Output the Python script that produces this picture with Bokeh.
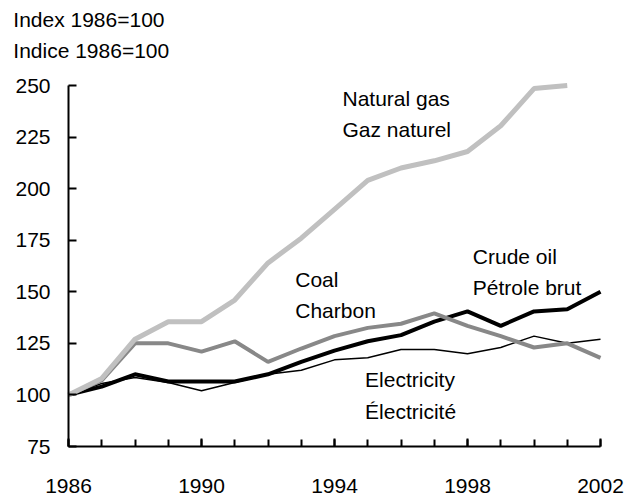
from bokeh.plotting import figure
from bokeh.models import Range1d, FixedTicker
from bokeh.core.properties import value
from bokeh.embed import file_html
from bokeh.resources import INLINE

years = list(range(1986, 2003))
natural_gas = [100, 108, 127, 135.5, 135.5, 146, 164, 176, 190, 204, 210, 213.5, 218, 230.5, 248.5, 250, float("nan")]
coal = [100, 107, 125, 125, 121, 126, 116, 122.5, 128.5, 132.5, 134.5, 139.5, 133.5, 128.5, 123, 125, 118]
crude_oil = [100, 104, 110, 106.5, 106.5, 106.5, 110, 116, 121.5, 126, 129, 135.5, 140.5, 133.5, 140.5, 141.5, 150]
electricity = [100, 105.5, 108.5, 106, 102, 106, 110, 112, 117, 118, 122, 122, 120, 123, 128.5, 125, 127]

x_tick_labels = [1986, 1990, 1994, 1998, 2002]
y_tick_labels = [75, 100, 125, 150, 175, 200, 225, 250]

series_names = ["Natural gas\nGaz naturel", "Coal\nCharbon", "Crude oil\nPétrole brut", "Electricity\nÉlectricité"]
unit_lines = ["Index 1986=100", "Indice 1986=100"]

FONT = "Liberation Sans"
FS = "21px"

# layout: plot area 532 x 361 px, with 68 px left, 25 right, 85 top, 50 bottom
W, H = 625, 496
PL, PR, PT, PB = 68, 25, 85, 50
X0, X1, Y0, Y1 = 1986, 2002, 75, 250
ppx = (W - PL - PR) / (X1 - X0)
ppy = (H - PT - PB) / (Y1 - Y0)

p = figure(width=W, height=H, output_backend="svg", toolbar_location=None,
           x_range=Range1d(X0 - PL / ppx, X1 + PR / ppx),
           y_range=Range1d(Y0 - PB / ppy, Y1 + PT / ppy),
           min_border=0)
p.outline_line_color = None
p.xgrid.visible = False
p.ygrid.visible = False
p.background_fill_color = "white"
p.border_fill_color = "white"

# series (drawn bottom to top)
p.line(years, electricity, line_color="black", line_width=1.5)
p.line(years, crude_oil, line_color="black", line_width=4)
p.line(years, coal, line_color="#888888", line_width=4)
p.line(years, natural_gas, line_color="#c0c0c0", line_width=5)

# series labels and unit lines
lab_x = [1994.24, 1994.24, 1992.82, 1992.82, 1998.16, 1998.16, 1994.92, 1994.92, 1984.34, 1984.34]
lab_y = [243.9, 228.5, 156.1, 140.8, 167.1, 152.1, 107.3, 92.2, 282.1, 266.8]
lab_t = []
for n in series_names:
    lab_t.extend(n.split("\n"))
lab_t.extend(unit_lines)
p.text(x=lab_x, y=lab_y, text=lab_t, text_font=value(FONT), text_font_size=FS,
       text_align="left", text_baseline="alphabetic", text_color="black")

# axes
p.xaxis.ticker = FixedTicker(ticks=x_tick_labels, minor_ticks=years)
p.yaxis.ticker = FixedTicker(ticks=y_tick_labels, minor_ticks=[])
p.xaxis.fixed_location = Y0
p.yaxis.fixed_location = X0
p.xaxis.bounds = (X0, X1)
p.yaxis.bounds = (Y0, Y1)
for ax in (p.xaxis, p.yaxis):
    ax.axis_line_color = "black"
    ax.axis_line_width = 2
    ax.major_tick_line_color = "black"
    ax.major_tick_line_width = 2
    ax.major_tick_out = 0
    ax.major_tick_in = 8
    ax.minor_tick_line_color = "black"
    ax.minor_tick_line_width = 2
    ax.minor_tick_out = 0
    ax.minor_tick_in = 7
    ax.major_label_text_font = FONT
    ax.major_label_text_font_size = FS
    ax.major_label_text_color = "black"
p.xaxis.major_label_standoff = 32
p.yaxis.major_label_standoff = 18

open("out.html", "w").write(file_html(p, INLINE))
